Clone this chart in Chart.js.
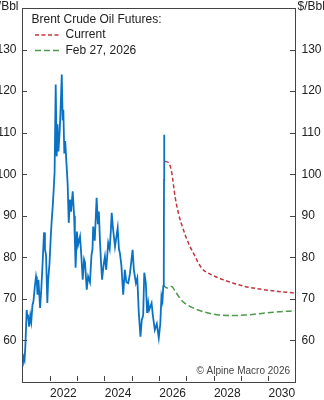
<!DOCTYPE html>
<html>
<head>
<meta charset="utf-8">
<style>
  html, body { margin: 0; padding: 0; background: #fff; overflow: hidden; }
  #wrap { width: 324px; height: 400px; position: relative; overflow: hidden; }
  #oilChart { display: block; }
</style>
</head>
<body>
<div id="wrap"><canvas id="oilChart"></canvas></div>
<script src="https://cdn.jsdelivr.net/npm/chart.js"></script>
<script>
// Brent spot (weekly-ish readings)
const spotDates = [
  '2021-01-04','2021-01-14','2021-01-28','2021-02-08','2021-02-26','2021-03-08','2021-03-15','2021-03-31',
  '2021-04-15','2021-04-28','2021-05-14','2021-05-28','2021-06-15','2021-07-01','2021-07-12','2021-07-20',
  '2021-08-02','2021-08-24','2021-09-08','2021-09-24','2021-10-16','2021-10-28','2021-11-12','2021-11-29',
  '2021-12-10','2021-12-28','2022-01-14','2022-01-27','2022-02-10','2022-02-24','2022-03-06','2022-03-21',
  '2022-04-03','2022-04-14','2022-04-26','2022-05-12','2022-05-24','2022-06-10','2022-06-22','2022-07-01',
  '2022-07-14','2022-07-26','2022-08-14','2022-08-28','2022-09-11','2022-09-28','2022-10-12','2022-11-03',
  '2022-11-22','2022-12-02','2022-12-12','2022-12-29','2023-01-14','2023-02-09','2023-02-28','2023-03-17',
  '2023-04-04','2023-04-17','2023-05-10','2023-05-28','2023-06-22','2023-07-12','2023-07-26','2023-08-04',
  '2023-08-25','2023-09-19','2023-10-06','2023-10-19','2023-11-02','2023-11-16','2023-12-01','2023-12-20',
  '2024-01-08','2024-01-25','2024-02-21','2024-03-12','2024-03-26','2024-04-08','2024-04-25','2024-05-22',
  '2024-06-27','2024-07-14','2024-07-27','2024-08-16','2024-09-09','2024-10-01','2024-10-22','2024-11-15',
  '2024-12-08','2025-01-13','2025-01-30','2025-02-26','2025-03-17','2025-04-05','2025-04-28','2025-05-16',
  '2025-06-03','2025-06-18','2025-07-09','2025-07-26','2025-08-10','2025-08-22','2025-09-24','2025-10-11',
  '2025-11-06','2025-12-03','2025-12-29','2026-01-18','2026-02-03','2026-02-16','2026-02-27','2026-03-06',
  '2026-03-09','2026-03-11','2026-03-13'
];
const spotPrices = [
  53.8, 56.0, 55.2, 58.5, 67.3, 65.5, 66.2, 63.3,
  66.0, 64.5, 68.5, 69.5, 73.0, 75.4, 74.2, 71.0,
  74.6, 67.8, 72.0, 77.5, 86.0, 82.0, 80.5, 69.0,
  74.5, 78.5, 85.0, 89.0, 92.5, 97.0, 100.5, 121.6,
  104.3, 112.0, 105.5, 110.0, 115.0, 124.0, 113.0, 115.5,
  105.0, 108.0, 101.9, 97.5, 88.3, 93.9, 91.0, 95.9,
  90.0, 84.2, 77.5, 86.2, 83.0, 85.0, 80.0, 74.6,
  79.5, 78.7, 72.2, 75.4, 74.0, 80.5, 82.0, 87.4,
  84.0, 94.3, 88.0, 91.0, 84.2, 79.0, 74.6, 78.0,
  80.2, 77.0, 83.5, 82.0, 86.0, 90.7, 87.0, 82.6,
  87.1, 82.0, 81.0, 78.0, 71.0, 77.0, 74.0, 73.8,
  76.0, 81.8, 77.0, 73.8, 75.0, 67.0, 60.9, 65.0,
  66.0, 76.3, 73.8, 66.6, 69.0, 67.3, 69.0, 66.0,
  62.5, 64.0, 60.6, 64.0, 70.6, 69.5, 73.0, 74.6,
  98.6, 109.5, 103.0
];

// Futures curve: current
const currentDates = [
  '2026-03-23','2026-05-16','2026-06-21','2026-08-04','2026-09-18','2026-11-24','2027-01-30','2027-04-06',
  '2027-07-26','2027-12-06','2028-07-16','2029-02-23','2029-10-04','2030-05-15','2031-01-01'
];
const currentPrices = [
  103.1, 102.6, 100.3, 94.6, 90.6, 86.6, 83.4, 81.0,
  77.4, 75.8, 74.2, 73.0, 72.3, 71.8, 71.4
];

// Futures curve: Feb 27, 2026
const febDates = [
  '2026-02-25','2026-04-01','2026-05-01','2026-06-17','2026-08-20','2026-11-17','2027-02-01','2027-05-01',
  '2027-12-06','2028-07-16','2029-02-23','2029-10-04','2030-05-15','2031-01-01'
];
const febPrices = [
  73.4, 72.8, 72.6, 73.0, 71.4, 69.3, 68.4, 67.6,
  66.4, 66.0, 66.1, 66.5, 66.9, 67.1
];

const yearLabels = [2022, 2024, 2026, 2028, 2030];
const yTicks = [60, 70, 80, 90, 100, 110, 120, 130];

const FONT = '"Liberation Sans", Arial, Helvetica, sans-serif';
const TEXT = '#222';
const AXIS = '#444';

function toYear(s) {
  const d = Date.parse(s + 'T00:00:00Z');
  const y = Number(s.slice(0, 4));
  const a = Date.UTC(y, 0, 1), b = Date.UTC(y + 1, 0, 1);
  return y + (d - a) / (b - a);
}
function points(dates, vals) {
  return dates.map((d, i) => ({ x: toYear(d), y: vals[i] }));
}
function noPad(s) {
  s.paddingTop = 0; s.paddingBottom = 0; s.paddingLeft = 0; s.paddingRight = 0;
}

// top border, inward tick marks, legend, units and source note
const decor = {
  id: 'decor',
  afterDraw(chart) {
    const ctx = chart.ctx;
    const a = chart.chartArea;
    const xs = chart.scales.x, ys = chart.scales.y;
    const L = Math.round(a.left), R = Math.round(a.right) - 1;
    const T = Math.round(a.top), B = Math.round(a.bottom) - 1;
    ctx.save();
    ctx.globalCompositeOperation = 'source-over';
    ctx.globalAlpha = 1;
    ctx.fillStyle = AXIS;
    ctx.fillRect(L, T, R - L + 1, 1);
    for (let yr = 2022; yr <= 2030; yr++) {
      const px = Math.round(xs.getPixelForValue(yr));
      ctx.fillRect(px, B - 5, 1, 5);
    }
    yTicks.forEach(v => {
      const py = Math.round(ys.getPixelForValue(v));
      ctx.fillRect(L - 1, py, 5, 1);
      ctx.fillRect(R - 5, py, 5, 1);
    });

    // units
    ctx.fillStyle = TEXT;
    ctx.font = '12px ' + FONT;
    ctx.textBaseline = 'middle';
    ctx.textAlign = 'right';
    ctx.fillText('$/Bbl', 18.5, 7);
    ctx.textAlign = 'left';
    ctx.fillText('$/Bbl', 297.5, 7);

    // legend
    ctx.fillText('Brent Crude Oil Futures:', 31.5, 19.5);
    const items = [
      { label: 'Current', color: '#c0393f', dash: [4, 2.5], y: 35 },
      { label: 'Feb 27, 2026', color: '#4e9a4c', dash: [6, 3], y: 50.5 }
    ];
    items.forEach(it => {
      ctx.save();
      ctx.strokeStyle = it.color;
      ctx.lineWidth = 1.5;
      ctx.setLineDash(it.dash);
      ctx.beginPath();
      ctx.moveTo(35, it.y); ctx.lineTo(60, it.y);
      ctx.stroke();
      ctx.restore();
      ctx.fillText(it.label, 65.5, it.y);
    });

    // source
    ctx.font = '10px ' + FONT;
    ctx.fillStyle = '#444';
    ctx.textAlign = 'right';
    ctx.fillText('\u00A9 Alpine Macro 2026', 290, 371);
    ctx.restore();
  }
};

const axisBorder = { display: true, color: AXIS, width: 1 };

const ctx = document.getElementById('oilChart').getContext('2d');
new Chart(ctx, {
  type: 'line',
  data: {
    datasets: [
      {
        label: 'Current',
        data: points(currentDates, currentPrices),
        borderColor: '#c0393f',
        borderWidth: 1.5,
        borderDash: [4, 2.5],
        pointRadius: 0,
        cubicInterpolationMode: 'monotone',
        order: 2
      },
      {
        label: 'Feb 27, 2026',
        data: points(febDates, febPrices),
        borderColor: '#4e9a4c',
        borderWidth: 1.5,
        borderDash: [6, 3],
        pointRadius: 0,
        cubicInterpolationMode: 'monotone',
        order: 3
      },
      {
        label: 'Brent',
        data: points(spotDates, spotPrices),
        borderColor: '#0a72c4',
        borderWidth: 1.8,
        pointRadius: 0,
        tension: 0,
        order: 1
      }
    ]
  },
  options: {
    responsive: true,
    maintainAspectRatio: false,
    animation: false,
    layout: { padding: { top: 8, left: 0, right: 0, bottom: 0 } },
    plugins: {
      legend: { display: false },
      tooltip: { enabled: false }
    },
    scales: {
      x: {
        type: 'linear',
        min: 2021,
        max: 2031,
        grid: { display: false, drawTicks: false },
        border: axisBorder,
        afterBuildTicks: s => { s.ticks = yearLabels.map(v => ({ value: v + 0.5 })); },
        afterFit: s => { s.height = 18; noPad(s); },
        ticks: {
          autoSkip: false,
          maxRotation: 0,
          padding: 4,
          color: TEXT,
          font: { size: 12, family: FONT },
          callback: v => String(Math.floor(v))
        }
      },
      y: {
        position: 'left',
        min: 50,
        max: 140,
        grid: { display: false, drawTicks: false },
        border: axisBorder,
        afterBuildTicks: s => { s.ticks = yTicks.map(v => ({ value: v })); },
        afterFit: s => { s.width = 22.5; noPad(s); },
        ticks: { padding: 6, color: TEXT, font: { size: 12, family: FONT } }
      },
      y2: {
        position: 'right',
        min: 50,
        max: 140,
        grid: { display: false, drawTicks: false },
        border: axisBorder,
        afterBuildTicks: s => { s.ticks = yTicks.map(v => ({ value: v })); },
        afterFit: s => { s.width = 28.5; noPad(s); },
        ticks: { padding: 6, color: TEXT, font: { size: 12, family: FONT } }
      }
    }
  },
  plugins: [decor]
});
</script>
</body>
</html>
